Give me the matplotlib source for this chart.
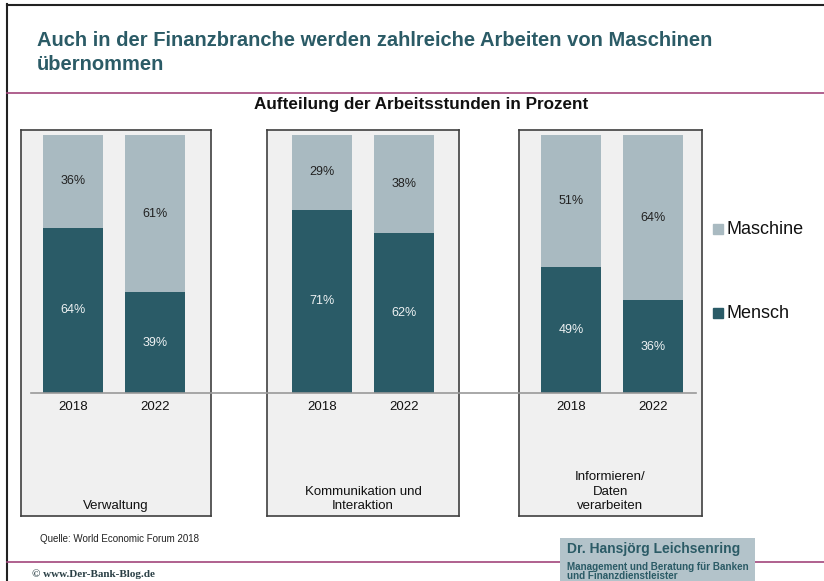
import numpy as np
import matplotlib
matplotlib.use("Agg")
import matplotlib.pyplot as plt
from matplotlib.lines import Line2D
from matplotlib.patches import Rectangle

plt.rcParams['font.family'] = ['Liberation Sans', 'DejaVu Sans']

years = ["2018", "2022"]
categories = ["Verwaltung", "Kommunikation und\nInteraktion", "Informieren/\nDaten\nverarbeiten"]
mensch = [[64, 39], [71, 62], [49, 36]]
maschine = [[36, 61], [29, 38], [51, 64]]

c_mensch = "#2a5b67"
c_maschine = "#a9bac1"
c_title = "#2b5b66"
c_purple = "#a2457c"

W, H = 824, 581
fig = plt.figure(figsize=(W / 100, H / 100), dpi=100)

def fx(x):
    return x / W

def fy(y):
    return 1 - y / H

# panel boxes in pixels: left, right, first bar center, second bar center
panels = [(21, 211, 73, 155), (267, 459, 322, 404), (519, 702, 571, 653)]
top_px, bot_px, base_px, full_px = 130, 516, 393, 135
ppu = (base_px - full_px) / 100.0

for i, (l, r, c1, c2) in enumerate(panels):
    ax = fig.add_axes([fx(l), fy(bot_px), (r - l) / W, (bot_px - top_px) / H])
    ax.set_facecolor("#f0f0f0")
    for s in ax.spines.values():
        s.set_color("#404040")
        s.set_linewidth(1.2)
    sp = float(c2 - c1)
    ax.set_xlim((l - c1) / sp, (r - c1) / sp)
    ax.set_ylim(-(bot_px - base_px) / ppu, 100 + (full_px - top_px) / ppu)
    x = np.arange(len(years))
    w = 60 / sp
    ax.bar(x, mensch[i], w, color=c_mensch, zorder=2)
    ax.bar(x, maschine[i], w, bottom=mensch[i], color=c_maschine, zorder=2)
    for j in range(len(years)):
        ax.text(x[j], mensch[i][j] / 2, f"{mensch[i][j]}%", ha="center", va="center",
                color="#eef2f3", fontsize=9, zorder=3)
        ax.text(x[j], mensch[i][j] + maschine[i][j] / 2, f"{maschine[i][j]}%", ha="center",
                va="center", color="#222222", fontsize=9, zorder=3)
        ax.text(x[j], -14 / ppu, years[j], ha="center", va="center", fontsize=9.5, color="#111111")
    ax.set_xticks([])
    ax.set_yticks([])
    ax.text(0.5, 4 / (bot_px - top_px), categories[i], transform=ax.transAxes, ha="center",
            va="bottom", fontsize=9.5, color="#111111", linespacing=1.25)

# baseline across panels
fig.add_artist(Line2D([fx(31), fx(696)], [fy(393), fy(393)], color="#999999", lw=1.2, zorder=5))

# legend
for name, col, ypx in [("Maschine", c_maschine, 229), ("Mensch", c_mensch, 313)]:
    fig.add_artist(Line2D([fx(718)], [fy(ypx)], marker="s", markersize=6.5, color=col,
                          markeredgecolor=col, linestyle="none"))
    fig.text(fx(727), fy(ypx), name, fontsize=13, va="center", color="#111111")

# frame and separators
fig.add_artist(Line2D([fx(7), fx(7)], [fy(4), fy(581)], color="#222222", lw=1.5))
fig.add_artist(Line2D([fx(7), fx(824)], [fy(5), fy(5)], color="#222222", lw=1.5))
fig.add_artist(Line2D([fx(7), fx(824)], [fy(93), fy(93)], color=c_purple, lw=1.2))
fig.add_artist(Line2D([fx(7), fx(824)], [fy(562), fy(562)], color=c_purple, lw=1.2))

# titles
fig.text(fx(37), fy(31), "Auch in der Finanzbranche werden zahlreiche Arbeiten von Maschinen\nübernommen",
         fontweight="bold", fontsize=14.5, color=c_title, va="top", ha="left", linespacing=1.3)
fig.text(fx(421), fy(105), "Aufteilung der Arbeitsstunden in Prozent", fontweight="bold",
         fontsize=12.3, ha="center", va="center", color="#111111")

# footer
fig.text(fx(40), fy(539), "Quelle: World Economic Forum 2018", fontsize=7, va="center", color="#222222")
fig.text(fx(32), fy(574), "\u00a9 www.Der-Bank-Blog.de", family=["Liberation Serif", "DejaVu Serif"],
         fontsize=8, fontweight="bold", va="center", color="#2a3f45")
fig.add_artist(Rectangle((fx(560), 0), fx(755) - fx(560), fy(538), transform=fig.transFigure,
                         facecolor="#b3c3ca", edgecolor="none", zorder=6))
fig.text(fx(567), fy(549), "Dr. Hansjörg Leichsenring", fontsize=10, fontweight="bold",
         color=c_title, va="center", zorder=7)
fig.text(fx(567), fy(566.5), "Management und Beratung für Banken", fontsize=7.1, fontweight="bold",
         color=c_title, va="center", zorder=7)
fig.text(fx(567), fy(576), "und Finanzdienstleister", fontsize=7.1, fontweight="bold",
         color=c_title, va="center", zorder=7)

fig.savefig("out.png", dpi=100)
